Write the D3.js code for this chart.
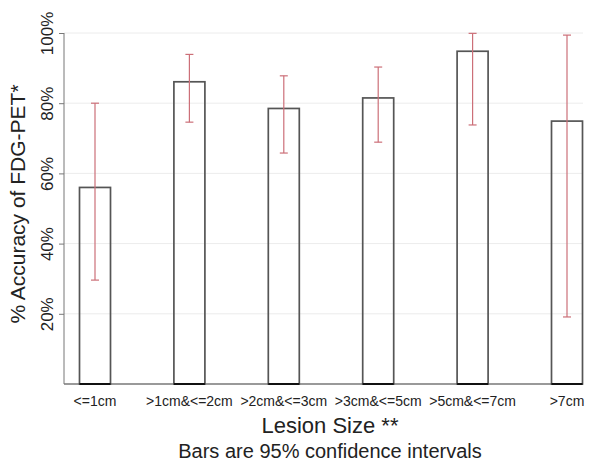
<!DOCTYPE html>
<html><head><meta charset="utf-8">
<script src="https://cdn.jsdelivr.net/npm/d3@7"></script>
<style>body{margin:0;background:#fff}svg{display:block}</style>
</head><body>
<svg id="c" width="600" height="462"></svg>
<script>
const categories = ["<=1cm", ">1cm&<=2cm", ">2cm&<=3cm", ">3cm&<=5cm", ">5cm&<=7cm", ">7cm"];
const accuracy = [56, 86.1, 78.5, 81.5, 94.8, 74.9];
const ciLow = [29.6, 74.6, 65.8, 68.9, 73.8, 19.1];
const ciHigh = [80, 93.9, 87.8, 90.3, 99.9, 99.4];
const yTicks = [20, 40, 60, 80, 100];
const yTickLabels = ["20%", "40%", "60%", "80%", "100%"];

const svg = d3.select("#c");
const font = "Liberation Sans, Arial, sans-serif";
const y = d3.scaleLinear().domain([0, 100]).range([384, 33]);
const x = d3.scalePoint().domain(categories).range([95, 567]);
const barW = 31;

// gridlines
svg.append("g").selectAll("line").data(yTicks).join("line")
  .attr("x1", 64).attr("x2", 583).attr("y1", d => y(d)).attr("y2", d => y(d))
  .attr("stroke", "#ececec").attr("stroke-width", 1);

// y axis
const yAxis = svg.append("g").attr("transform", "translate(64,0)")
  .call(d3.axisLeft(y).tickValues(yTicks).tickSize(5).tickFormat((d, i) => yTickLabels[i]));
yAxis.select(".domain").attr("stroke", "#777").attr("d", "M0,33V384");
yAxis.selectAll(".tick line").attr("stroke", "#777");
yAxis.selectAll(".tick text")
  .attr("font-family", font).attr("font-size", 17).attr("fill", "#222")
  .attr("transform", "rotate(-90)").attr("x", 0).attr("y", -11)
  .attr("dy", "0").attr("text-anchor", "middle");

// x axis line
svg.append("line").attr("x1", 64).attr("x2", 583).attr("y1", 384).attr("y2", 384)
  .attr("stroke", "#777").attr("stroke-width", 1.5);

// bars
svg.append("g").selectAll("rect").data(categories).join("rect")
  .attr("x", d => x(d) - barW / 2).attr("width", barW)
  .attr("y", (d, i) => y(accuracy[i])).attr("height", (d, i) => y(0) - y(accuracy[i]))
  .attr("fill", "none").attr("stroke", "#555").attr("stroke-width", 1.7);
svg.append("g").selectAll("line").data(categories).join("line")
  .attr("x1", d => x(d) - barW / 2).attr("x2", d => x(d) + barW / 2)
  .attr("y1", y(0)).attr("y2", y(0)).attr("stroke", "#111").attr("stroke-width", 2);

// error bars
const eb = svg.append("g").attr("stroke", "#cc6f78").attr("stroke-width", 1.2);
categories.forEach((c, i) => {
  eb.append("line").attr("x1", x(c)).attr("x2", x(c)).attr("y1", y(ciHigh[i])).attr("y2", y(ciLow[i]));
  [ciHigh[i], ciLow[i]].forEach(v => eb.append("line")
    .attr("x1", x(c) - 4).attr("x2", x(c) + 4).attr("y1", y(v)).attr("y2", y(v)));
});

// x tick labels
svg.append("g").selectAll("text").data(categories).join("text")
  .attr("x", d => x(d)).attr("y", 406).attr("text-anchor", "middle")
  .attr("font-family", font).attr("font-size", 14).attr("fill", "#222").text(d => d);

// titles
svg.append("text").attr("x", 330).attr("y", 433).attr("text-anchor", "middle")
  .attr("font-family", font).attr("font-size", 22).attr("fill", "#222").text("Lesion Size **");
svg.append("text").attr("x", 330).attr("y", 458).attr("text-anchor", "middle")
  .attr("font-family", font).attr("font-size", 20).attr("fill", "#222").text("Bars are 95% confidence intervals");
svg.append("text").attr("transform", "translate(25,204) rotate(-90)").attr("text-anchor", "middle")
  .attr("font-family", font).attr("font-size", 21).attr("fill", "#222").text("% Accuracy of FDG-PET*");
</script>
</body></html>
